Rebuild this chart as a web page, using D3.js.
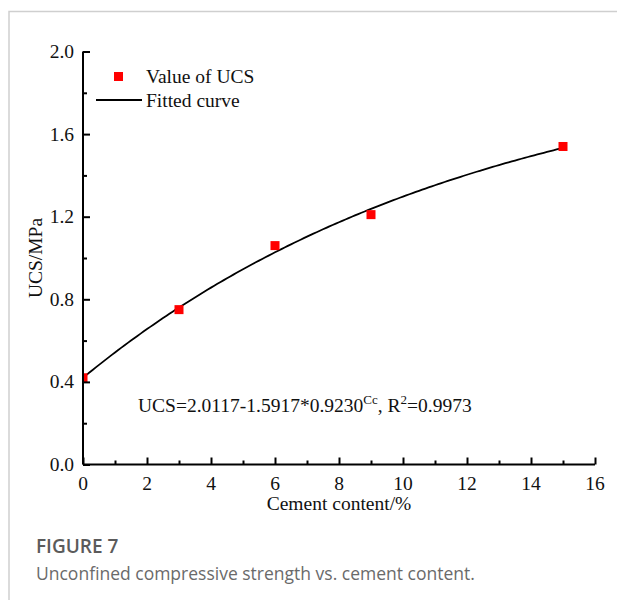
<!DOCTYPE html>
<html>
<head>
<meta charset="utf-8">
<script src="https://cdn.jsdelivr.net/npm/d3@7"></script>
<style>
  html, body { margin: 0; padding: 0; background: #fff; }
  svg { display: block; }
</style>
</head>
<body>
<svg id="chart" width="617" height="600"></svg>
<script>
// Measured cement content (%) and unconfined compressive strength (MPa)
const cementContent = [0, 3, 6, 9, 15];
const ucsValues = [0.42, 0.75, 1.06, 1.21, 1.54];

// Fitted model UCS = a - b * c^Cc
const fitA = 2.0117;
const fitB = 1.5917;
const fitC = 0.9230;
const fitR2 = 0.9973;

const xTicks = [0, 2, 4, 6, 8, 10, 12, 14, 16];
const yTicks = [0.0, 0.4, 0.8, 1.2, 1.6, 2.0];
const xMinorTicks = [1, 3, 5, 7, 9, 11, 13, 15];
const yMinorTicks = [0.2, 0.6, 1.0, 1.4, 1.8];

const svg = d3.select("#chart");
const serif = "'Liberation Serif', 'Times New Roman', serif";
const fs = 19.5;

// Frame around the figure panel
svg.append("path")
  .attr("d", "M9,600 V11.5 H617")
  .attr("fill", "none")
  .attr("stroke", "#cfcfcf")
  .attr("stroke-width", 1.5);

const x = d3.scaleLinear().domain([0, 16]).range([83, 595]);
const y = d3.scaleLinear().domain([0, 2]).range([464.5, 51.5]);

// Fitted curve from the stated coefficients
const curveXs = d3.range(0, 15.001, 0.1);
const line = d3.line()
  .x(d => x(d))
  .y(d => y(fitA - fitB * Math.pow(fitC, d)));

svg.append("defs").append("clipPath").attr("id", "plotClip")
  .append("rect")
  .attr("x", x(0)).attr("y", y(2) - 10)
  .attr("width", x(16) - x(0) + 10).attr("height", y(0) - y(2) + 10);

const plot = svg.append("g").attr("clip-path", "url(#plotClip)");

plot.append("path")
  .datum(curveXs)
  .attr("d", line)
  .attr("fill", "none")
  .attr("stroke", "#000")
  .attr("stroke-width", 1.8);

// Measured points as red squares
const sq = 9;
plot.selectAll("rect.pt")
  .data(cementContent.map((c, i) => ({ c, v: ucsValues[i] })))
  .enter().append("rect")
  .attr("class", "pt")
  .attr("x", d => x(d.c) - sq / 2)
  .attr("y", d => y(d.v) - sq / 2)
  .attr("width", sq).attr("height", sq)
  .attr("fill", "#ff0000");

// Axes with inward ticks
const xAxis = svg.append("g").attr("transform", `translate(0,${y(0)})`)
  .call(d3.axisTop(x).tickValues(xTicks).tickSize(7).tickFormat(""));
const xMinor = svg.append("g").attr("transform", `translate(0,${y(0)})`)
  .call(d3.axisTop(x).tickValues(xMinorTicks).tickSize(4).tickFormat(""));
const yAxis = svg.append("g").attr("transform", `translate(${x(0)},0)`)
  .call(d3.axisRight(y).tickValues(yTicks).tickSize(7).tickFormat(""));
const yMinor = svg.append("g").attr("transform", `translate(${x(0)},0)`)
  .call(d3.axisRight(y).tickValues(yMinorTicks).tickSize(4).tickFormat(""));

[xAxis, xMinor, yAxis, yMinor].forEach(g => {
  g.selectAll("path.domain").attr("stroke", "#000").attr("stroke-width", 2);
  g.selectAll(".tick line").attr("stroke", "#000").attr("stroke-width", 2);
});
xMinor.select("path.domain").remove();
yMinor.select("path.domain").remove();
// plain axis lines (no outer end caps)
xAxis.select("path.domain").attr("d", `M${x(0)},0H${x(16)}`);
yAxis.select("path.domain").attr("d", `M0,${y(0)}V${y(2)}`);

// Tick labels
svg.append("g").selectAll("text")
  .data(xTicks).enter().append("text")
  .attr("x", d => x(d))
  .attr("y", 490)
  .attr("text-anchor", "middle")
  .attr("font-family", serif)
  .attr("font-size", fs)
  .attr("fill", "#111")
  .text(d => d);

svg.append("g").selectAll("text")
  .data(yTicks).enter().append("text")
  .attr("x", 74)
  .attr("y", d => y(d) + 6.5)
  .attr("text-anchor", "end")
  .attr("font-family", serif)
  .attr("font-size", fs)
  .attr("fill", "#111")
  .text(d => d.toFixed(1));

// Axis titles
svg.append("text")
  .attr("x", 339).attr("y", 510)
  .attr("text-anchor", "middle")
  .attr("font-family", serif)
  .attr("font-size", fs)
  .attr("fill", "#111")
  .text("Cement content/%");

svg.append("text")
  .attr("transform", `translate(42,${y(1)}) rotate(-90)`)
  .attr("text-anchor", "middle")
  .attr("font-family", serif)
  .attr("font-size", fs)
  .attr("fill", "#111")
  .text("UCS/MPa");

// Legend
svg.append("rect")
  .attr("x", 114).attr("y", 72)
  .attr("width", 9).attr("height", 9)
  .attr("fill", "#ff0000");
svg.append("text")
  .attr("x", 146).attr("y", 83)
  .attr("font-family", serif).attr("font-size", fs).attr("fill", "#111")
  .text("Value of UCS");
svg.append("line")
  .attr("x1", 96).attr("x2", 142)
  .attr("y1", 100).attr("y2", 100)
  .attr("stroke", "#000").attr("stroke-width", 1.8);
svg.append("text")
  .attr("x", 146).attr("y", 107)
  .attr("font-family", serif).attr("font-size", fs).attr("fill", "#111")
  .text("Fitted curve");

// Fitted equation
const eq = svg.append("text")
  .attr("x", 138).attr("y", 412)
  .attr("font-family", serif).attr("font-size", fs).attr("fill", "#111");
eq.append("tspan").text(`UCS=${fitA.toFixed(4)}-${fitB.toFixed(4)}*${fitC.toFixed(4)}`);
eq.append("tspan").attr("dy", -8).attr("font-size", 13).text("Cc");
eq.append("tspan").attr("dy", 8).text(", R");
eq.append("tspan").attr("dy", -8).attr("font-size", 13).text("2");
eq.append("tspan").attr("dy", 8).text(`=${fitR2.toFixed(4)}`);

// Caption
svg.append("text")
  .attr("x", 36).attr("y", 553)
  .attr("font-family", "'Open Sans', 'Noto Sans', sans-serif")
  .attr("font-size", 19).attr("font-weight", 600)
  .attr("fill", "#5b5b5b")
  .text("FIGURE 7");
svg.append("text")
  .attr("x", 36).attr("y", 580)
  .attr("font-family", "'Open Sans', 'Noto Sans', sans-serif")
  .attr("font-size", 17.5)
  .attr("fill", "#6a6a6a")
  .text("Unconfined compressive strength vs. cement content.");
</script>
</body>
</html>
